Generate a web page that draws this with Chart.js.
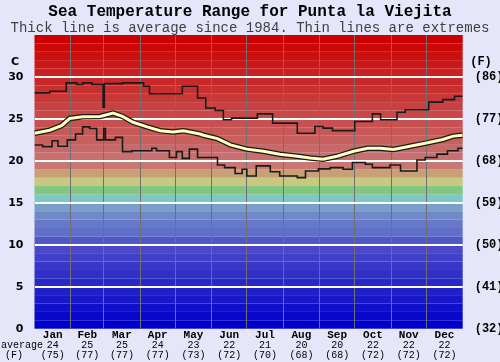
<!DOCTYPE html>
<html>
<head>
<meta charset="utf-8">
<script src="https://cdn.jsdelivr.net/npm/chart.js@4"></script>
<style>
  body { margin: 0; background: #e6e6fa; }
  canvas { display: block; background: #e6e6fa; }
</style>
</head>
<body>
<canvas id="chart" width="500" height="362"></canvas>
<script>
// Month labels and monthly averages shown under the chart
const months = ["Jan", "Feb", "Mar", "Apr", "May", "Jun", "Jul", "Aug", "Sep", "Oct", "Nov", "Dec"];
const avgC = [24, 25, 25, 24, 23, 22, 21, 20, 20, 22, 22, 22];
const avgF = [75, 77, 77, 77, 73, 72, 70, 68, 68, 72, 72, 72];
const monthStart = [0, 31, 59, 90, 120, 151, 181, 212, 243, 273, 304, 334, 365];

// Highest recorded temperature (day of year, C) - each value holds until the next day listed
const maxDay = [0, 13, 27, 36, 41, 49, 58.5, 59.5, 75, 93, 98, 126, 139, 146, 154, 161, 168, 190, 203, 224, 239, 246, 254, 273, 288, 295, 309, 316, 336, 348, 358, 365];
const maxTemp = [28.1, 28.3, 29.3, 29.1, 29.3, 29.1, 26.4, 29.2, 29.3, 28.9, 28.0, 28.9, 27.5, 26.3, 26.0, 24.9, 25.1, 25.6, 24.5, 23.3, 24.1, 23.9, 23.6, 24.7, 25.6, 24.9, 25.8, 26.1, 27.0, 27.3, 27.7, 27.7];

// Lowest recorded temperature (day of year, C) - same step layout
const minDay = [0, 7, 15, 20, 28, 35, 41, 47, 53, 59, 60.5, 69, 75, 83, 100, 104, 115, 121, 126, 132, 139, 156, 162, 171, 177, 181, 189, 201, 209, 224, 231, 242, 252, 263, 271, 282, 288, 303, 312, 326, 333, 343, 352, 361, 365];
const minTemp = [21.9, 21.7, 22.4, 21.75, 22.5, 23.2, 24.05, 23.85, 22.5, 23.85, 22.5, 22.8, 21.1, 21.2, 21.5, 21.2, 20.4, 21.1, 20.3, 21.4, 20.4, 19.5, 19.2, 18.5, 19.0, 18.2, 19.4, 18.7, 18.2, 18.0, 18.8, 19.05, 19.2, 19.0, 19.8, 19.6, 19.2, 19.5, 18.8, 20.1, 20.4, 20.8, 21.2, 21.5, 21.5];

// Average temperature since 1984 (day of year, C)
const avgDay = [0, 13, 23, 30, 41, 56, 67, 75, 84, 96, 107, 118, 127, 141, 144, 156, 167, 181, 195, 209, 224, 235, 246, 258, 272, 284, 295, 306, 320, 335, 348, 357, 365];
const avgTemp = [23.3, 23.65, 24.2, 25.05, 25.25, 25.3, 25.7, 25.3, 24.6, 24.05, 23.6, 23.45, 23.6, 23.2, 23.05, 22.65, 21.9, 21.4, 21.15, 20.8, 20.55, 20.35, 20.2, 20.55, 21.15, 21.5, 21.5, 21.35, 21.75, 22.15, 22.55, 22.95, 23.05];

// Colour of each 1 degree band, from 0-1 C up to 34-35 C
const bandColors = [
  "#0000cc", "#0808cc", "#1010ca", "#1818ca", "#2020c8", "#2828c8", "#3030c8", "#3838c8",
  "#4040c8", "#4848c8", "#5058c8", "#6070c8", "#6878c8", "#7088c8", "#78a0c8",
  "#80c8c8", "#80c880", "#c8c880", "#c8a078",
  "#c87870", "#c87070", "#c86868", "#c86060", "#c85858", "#c85050", "#c84848", "#c84040",
  "#c83838", "#c83030", "#ca2828", "#ca2020", "#ca1818", "#cc1010", "#cc0808", "#cc0000"
];

const toPoints = (xs, ys) => xs.map((x, i) => ({ x: x, y: ys[i] }));

const mono = "'Liberation Mono', 'Courier New', monospace";
const sans = "'DejaVu Sans', Verdana, sans-serif";

// Coloured temperature bands behind everything
const bandsPlugin = {
  id: "bands",
  beforeDraw: (chart) => {
    const { ctx, chartArea, scales } = chart;
    ctx.save();
    bandColors.forEach((c, t) => {
      const y1 = scales.y.getPixelForValue(t + 1);
      const y0 = scales.y.getPixelForValue(t);
      ctx.fillStyle = c;
      ctx.fillRect(chartArea.left, y1, chartArea.right - chartArea.left, y0 - y1);
    });
    ctx.restore();
  },
};

// Axis units and the month / average labels under the plot
const labelsPlugin = {
  id: "labels",
  afterDraw: (chart) => {
    const { ctx, scales } = chart;
    ctx.save();
    ctx.fillStyle = "#000";
    ctx.textBaseline = "middle";

    ctx.textAlign = "center";
    ctx.font = "bold 11px " + sans;
    ctx.fillText("C", 15, 62);
    ctx.font = "bold 12px " + mono;
    ctx.fillText("(F)", 481, 62);

    months.forEach((m, i) => {
      const x = scales.x.getPixelForValue((monthStart[i] + monthStart[i + 1]) / 2);
      ctx.font = "bold 11px " + mono;
      ctx.fillText(m, x, 335);
      ctx.font = "10px " + mono;
      ctx.fillText(String(avgC[i]), x, 345);
      ctx.fillText("(" + avgF[i] + ")", x, 355);
    });

    ctx.font = "10px " + mono;
    ctx.textAlign = "left";
    ctx.fillText("average", 1, 345);
    ctx.textAlign = "center";
    ctx.fillText("(F)", 14, 355);
    ctx.restore();
  },
};

new Chart(document.getElementById("chart"), {
  type: "line",
  data: {
    datasets: [
      {
        label: "Average",
        data: toPoints(avgDay, avgTemp),
        borderColor: "#ffffc0",
        borderWidth: 3,
        order: 0,
      },
      {
        label: "Average outline",
        data: toPoints(avgDay, avgTemp),
        borderColor: "#1a1a1a",
        borderWidth: 5.5,
        order: 1,
      },
      {
        label: "Max",
        data: toPoints(maxDay, maxTemp),
        borderColor: "#1a1a1a",
        borderWidth: 1.6,
        stepped: "before",
        order: 2,
      },
      {
        label: "Min",
        data: toPoints(minDay, minTemp),
        borderColor: "#1a1a1a",
        borderWidth: 1.6,
        stepped: "before",
        order: 2,
      },
    ],
  },
  options: {
    responsive: false,
    animation: false,
    devicePixelRatio: 1,
    elements: { point: { radius: 0 }, line: { tension: 0 } },
    layout: { padding: { left: 0, right: 0, top: 0, bottom: 33.3 } },
    plugins: {
      legend: { display: false },
      tooltip: { enabled: false },
      title: {
        display: true,
        text: "Sea Temperature Range for Punta la Viejita",
        color: "#000",
        font: { family: mono, size: 16, weight: "bold", lineHeight: 1 },
        padding: { top: 4, bottom: 0 },
      },
      subtitle: {
        display: true,
        text: "Thick line is average since 1984. Thin lines are extremes",
        color: "#404040",
        font: { family: mono, size: 14, lineHeight: 1 },
        padding: { top: 1, bottom: 0 },
      },
    },
    scales: {
      x: {
        type: "linear",
        min: 0,
        max: 365,
        afterBuildTicks: (s) => {
          s.ticks = monthStart.slice(1, 12).map((v) => ({ value: v }));
        },
        afterFit: (s) => { s.height = 0; },
        ticks: { display: false },
        grid: { color: "#707070", lineWidth: 1, drawTicks: false },
        border: { display: false },
      },
      y: {
        position: "left",
        min: 0,
        max: 35,
        afterBuildTicks: (s) => {
          s.ticks = [0, 5, 10, 15, 20, 25, 30].map((v) => ({ value: v }));
        },
        afterFit: (s) => { s.width = 34.5; },
        ticks: { color: "#000", padding: 11, font: { family: sans, size: 11, weight: "bold" } },
        grid: { color: (c) => (c.tick.value === 0 ? "rgba(0,0,0,0)" : "#ffffff"), lineWidth: 2, drawTicks: false },
        border: { display: false },
      },
      y2: {
        position: "right",
        min: 0,
        max: 35,
        afterBuildTicks: (s) => {
          s.ticks = [0, 5, 10, 15, 20, 25, 30].map((v) => ({ value: v }));
        },
        afterFit: (s) => { s.width = 37.3; },
        ticks: {
          color: "#000",
          padding: 4,
          font: { family: mono, size: 12, weight: "bold" },
          callback: (v) => "(" + Math.round(v * 9 / 5 + 32) + ")",
        },
        grid: { display: false },
        border: { display: false },
      },
    },
  },
  plugins: [bandsPlugin, labelsPlugin],
});
</script>
</body>
</html>
